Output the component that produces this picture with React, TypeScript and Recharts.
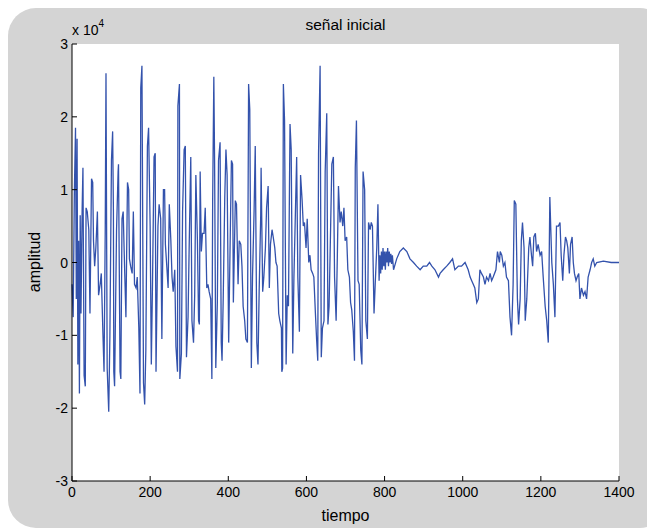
import React from 'react';
import { LineChart, Line, XAxis, YAxis } from 'recharts';

// muestras (tiempo en muestras, amplitud en unidades de 10^4)
const tiempo = [
  0, 3, 6, 9, 11, 13, 15, 17, 19, 21, 23, 26, 28, 31, 34, 36, 39, 43, 46, 50,
  53, 55, 58, 61, 65, 68, 72, 75, 79, 82, 85, 87, 90, 94, 97, 101, 104, 106, 107, 109,
  114, 118, 119, 123, 125, 128, 131, 135, 138, 142, 145, 147, 150, 154, 157, 160, 164, 167, 171, 174,
  176, 179, 183, 186, 189, 193, 196, 200, 203, 206, 210, 213, 215, 220, 223, 227, 230, 234, 237, 239,
  242, 246, 249, 253, 256, 259, 263, 266, 270, 271, 275, 276, 280, 283, 287, 290, 293, 297, 300, 304,
  307, 311, 314, 317, 321, 324, 326, 328, 331, 334, 338, 341, 345, 348, 351, 355, 358, 360, 363, 365,
  368, 372, 375, 379, 382, 384, 387, 391, 394, 397, 401, 404, 408, 411, 413, 418, 421, 425, 428, 432,
  435, 438, 442, 445, 449, 452, 455, 459, 462, 466, 469, 473, 476, 479, 483, 484, 488, 491, 495, 498,
  502, 505, 508, 512, 515, 519, 522, 525, 529, 532, 536, 537, 539, 541, 544, 548, 551, 554, 558, 561,
  565, 568, 571, 575, 578, 582, 585, 589, 592, 595, 599, 602, 606, 609, 612, 616, 619, 623, 626, 629,
  631, 635, 638, 641, 645, 648, 652, 655, 658, 662, 665, 669, 672, 676, 679, 682, 686, 689, 693, 696,
  699, 703, 706, 710, 713, 716, 720, 723, 725, 728, 732, 735, 739, 742, 745, 749, 752, 756, 759, 763,
  766, 769, 773, 776, 780, 783, 786, 788, 790, 792, 794, 796, 798, 800, 802, 804, 806, 808, 810, 812,
  814, 816, 818, 820, 823, 831, 839, 848, 857, 865, 874, 882, 891, 899, 908, 915, 921, 929, 938, 942,
  950, 959, 967, 974, 980, 989, 997, 1006, 1014, 1019, 1023, 1027, 1031, 1036, 1040, 1044, 1048, 1053, 1057, 1061,
  1066, 1070, 1074, 1078, 1085, 1089, 1094, 1096, 1100, 1104, 1108, 1112, 1117, 1121, 1125, 1129, 1132, 1136, 1140, 1143,
  1147, 1150, 1153, 1157, 1160, 1164, 1169, 1172, 1176, 1179, 1182, 1186, 1189, 1193, 1198, 1202, 1206, 1211, 1215, 1219,
  1223, 1228, 1232, 1236, 1240, 1245, 1249, 1252, 1256, 1259, 1263, 1266, 1269, 1273, 1276, 1280, 1283, 1286, 1290, 1293,
  1297, 1300, 1304, 1309, 1313, 1317, 1321, 1326, 1330, 1334, 1338, 1343, 1360, 1380, 1400,
];

const amplitud = [
  -0.3, -0.75, 0.95, 1.85, -0.5, 1.7, -1.4, 0.3, -1.8, 0.65, -0.7, 0.75, 1.3, -1.55, -1.7, 0.75, 0.7, 0.45, -0.7, 1.15,
  1.1, 0.3, -0.05, 0.2, 0.7, -0.45, -0.3, -0.15, -0.95, -1.5, 0.4, 2.6, -1.45, -2.05, -1.0, 1.4, 1.8, 0.7, -1.5, -1.7,
  0.45, 1.25, 1.35, -1.5, -1.6, 0.6, 0.7, -0.15, -0.75, 1.1, 1.0, 0.05, -0.05, -0.15, 0.7, -0.3, -0.35, -0.2, -0.9, -1.8,
  2.4, 2.7, -1.65, -1.95, -1.2, 1.6, 1.85, 0.5, -1.4, -0.3, 1.45, 1.5, -1.5, 0.5, 0.8, 0.6, -1.05, 1.0, 1.0, 0.25,
  0.0, -0.35, 0.8, 0.3, -0.2, -0.4, -0.1, -1.15, -1.5, 2.15, 2.45, -1.6, -1.25, 0.7, 1.55, 1.6, -1.3, -0.75, 0.25, 1.45,
  -0.8, -1.1, -0.45, 1.2, 0.3, -0.8, -0.85, 1.25, 0.15, 0.4, 0.4, 0.75, -0.35, -0.3, -0.4, -0.5, -1.6, 0.85, 2.55, 1.35,
  -1.45, -0.55, 1.4, 1.65, -1.1, -1.35, -0.5, 0.9, 1.55, 1.2, -1.1, 0.0, 1.4, 1.35, -0.55, 0.85, 0.8, -0.3, 0.3, 0.25,
  -0.05, -0.6, -0.8, -1.05, -1.1, 2.45, 2.1, -1.45, -0.2, 0.7, 1.6, -1.1, -1.4, -0.4, 0.65, 1.3, -0.4, -0.2, 0.2, 0.75,
  1.05, -0.35, 0.25, 0.45, 0.35, 0.2, 0.0, -0.05, -0.7, -0.8, -0.9, -1.5, -1.45, 2.45, 1.95, -1.4, -0.45, -0.6, 1.9, 1.55,
  -1.25, -0.2, 0.5, 1.45, -0.2, -0.95, 1.2, 0.85, 0.5, 0.55, 0.2, 0.6, 0.0, 0.1, -0.1, -0.15, -0.2, -0.7, -1.05, -1.35,
  1.5, 2.7, -1.3, -0.9, -0.8, 1.25, 2.05, -0.85, -0.6, 0.5, 1.35, 1.45, -0.2, -0.8, 0.05, 1.05, 0.55, 0.7, 0.5, 0.75,
  0.3, 0.35, -0.1, -0.2, -0.55, -0.65, -0.95, -1.35, 1.3, 1.95, -0.25, -0.3, -1.2, -1.4, 1.25, 1.0, -0.8, -1.05, 0.55, 0.45,
  0.55, 0.5, -0.7, -0.3, 0.2, 0.8, -0.25, 0.1, -0.15, 0.15, -0.1, 0.2, -0.05, 0.15, -0.1, 0.15, 0.0, 0.2, -0.05, 0.15,
  0.0, 0.12, -0.02, 0.1, -0.1, 0.05, 0.15, 0.2, 0.15, 0.05, 0.0, -0.05, -0.1, -0.05, -0.05, 0.0, -0.05, -0.1, -0.2, -0.15,
  -0.1, -0.05, 0.0, 0.05, -0.1, -0.05, -0.05, 0.0, -0.1, -0.2, -0.25, -0.3, -0.35, -0.55, -0.5, -0.1, -0.15, -0.2, -0.3, -0.2,
  -0.25, -0.15, -0.25, -0.2, -0.1, 0.15, 0.0, 0.15, 0.1, -0.05, 0.0, -0.2, -0.25, -0.75, -1.0, -0.3, 0.85, 0.8, -0.5, -0.85,
  -0.5, 0.3, 0.55, 0.2, -0.8, -0.5, 0.2, 0.35, 0.1, -0.05, 0.35, 0.4, 0.15, 0.25, 0.1, 0.15, -0.2, -0.6, -0.8, -1.1,
  0.9, 0.0, -0.3, -0.75, 0.5, 0.5, 0.55, 0.1, -0.25, 0.1, 0.35, 0.3, 0.2, -0.15, 0.25, 0.35, 0.0, -0.15, -0.25, -0.2,
  -0.15, -0.5, -0.35, -0.45, -0.4, -0.5, -0.2, -0.1, 0.0, 0.05, -0.05, 0.0, 0.02, 0.0, 0.0,
];

const xTicks = [0, 200, 400, 600, 800, 1000, 1200, 1400];
const yTicks = [-3, -2, -1, 0, 1, 2, 3];

const data = tiempo.map((t, i) => ({ t, v: amplitud[i] }));

const FONT = '"Liberation Sans", Arial, Helvetica, sans-serif';

const BottomTick = ({ x, y, payload }: any) => (
  <g>
    <line x1={x} y1={y} x2={x} y2={y - 5} stroke="#000" />
    <text x={x} y={y + 16} textAnchor="middle" fontSize={14} fontFamily={FONT} fill="#000">
      {payload.value}
    </text>
  </g>
);

const TopTick = ({ x, y }: any) => <line x1={x} y1={y} x2={x} y2={y + 5} stroke="#000" />;

const LeftTick = ({ x, y, payload }: any) => (
  <g>
    <line x1={x} y1={y} x2={x + 5} y2={y} stroke="#000" />
    <text x={x - 4} y={y + 5} textAnchor="end" fontSize={14} fontFamily={FONT} fill="#000">
      {payload.value}
    </text>
  </g>
);

const RightTick = ({ x, y }: any) => <line x1={x} y1={y} x2={x - 5} y2={y} stroke="#000" />;

export default function App() {
  return (
    <div style={{ position: 'fixed', left: 0, top: 0, width: 647, height: 530, overflow: 'hidden', background: '#fff' }}>
      <div
        style={{
          position: 'absolute',
          left: 8,
          top: 8,
          width: 660,
          height: 520,
          background: '#d4d4d4',
          borderRadius: 28,
        }}
      />
      <div style={{ position: 'absolute', left: 0, top: 0 }}>
        <LineChart width={647} height={530} data={data} margin={{ top: 44, right: 28, left: 0, bottom: 0 }}>
          <rect x={72} y={44} width={547} height={437} fill="#fff" />
          <XAxis
            dataKey="t"
            type="number"
            domain={[0, 1400]}
            ticks={xTicks}
            height={49}
            tickSize={0}
            tickMargin={0}
            tickLine={false}
            stroke="#000"
            tick={<BottomTick />}
            interval={0}
          />
          <XAxis
            xAxisId="top"
            orientation="top"
            dataKey="t"
            type="number"
            domain={[0, 1400]}
            ticks={xTicks}
            height={0}
            tickSize={0}
            tickMargin={0}
            tickLine={false}
            stroke="#000"
            tick={<TopTick />}
            interval={0}
          />
          <YAxis
            type="number"
            domain={[-3, 3]}
            ticks={yTicks}
            width={72}
            tickSize={0}
            tickMargin={0}
            tickLine={false}
            stroke="#000"
            tick={<LeftTick />}
            interval={0}
            allowDataOverflow
          />
          <YAxis
            yAxisId="right"
            orientation="right"
            type="number"
            domain={[-3, 3]}
            ticks={yTicks}
            width={0}
            tickSize={0}
            tickMargin={0}
            tickLine={false}
            stroke="#000"
            tick={<RightTick />}
            interval={0}
          />
          <Line
            type="linear"
            dataKey="v"
            stroke="#3352ac"
            strokeWidth={1.3}
            dot={false}
            isAnimationActive={false}
          />
        </LineChart>
      </div>
      <div style={{ position: 'absolute', left: 0, width: 691, top: 16, textAlign: 'center', fontFamily: FONT, fontSize: 15.5 }}>
        señal inicial
      </div>
      <div style={{ position: 'absolute', left: 72, top: 20, fontFamily: FONT, fontSize: 14 }}>
        x 10<sup style={{ fontSize: 10, position: 'relative', top: -2 }}>4</sup>
      </div>
      <div style={{ position: 'absolute', left: 0, width: 691, top: 507, textAlign: 'center', fontFamily: FONT, fontSize: 16 }}>
        tiempo
      </div>
      <div
        style={{
          position: 'absolute',
          left: 35,
          top: 262,
          transform: 'translate(-50%, -50%) rotate(-90deg)',
          fontFamily: FONT,
          fontSize: 16,
          whiteSpace: 'nowrap',
        }}
      >
        amplitud
      </div>
    </div>
  );
}
